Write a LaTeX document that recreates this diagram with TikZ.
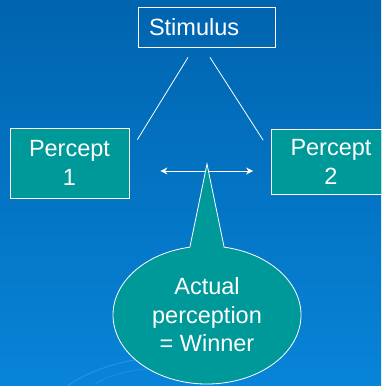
\documentclass[tikz,border=0pt]{standalone}
\usepackage{fontspec}
\setmainfont{Liberation Sans}
\usetikzlibrary{shapes.callouts,arrows.meta}
\definecolor{bgtop}{RGB}{0,100,175}
\definecolor{bgbottom}{RGB}{8,132,216}
\definecolor{teal1}{RGB}{0,153,153}
\definecolor{swirl}{RGB}{60,160,235}

\tikzset{
  slidetext/.style={font=\fontsize{23.5}{28.5}\selectfont, text=white},
  percept/.style={slidetext, draw=white, fill=teal1, line width=0.8pt,
    minimum width=119pt, minimum height=67pt, align=center, inner sep=0pt},
  link/.style={draw=white, line width=0.8pt}
}

\begin{document}
\begin{tikzpicture}[x=1pt,y=-1pt]
\useasboundingbox (0,0) rectangle (381,386);
\clip (0,0) rectangle (381,386);
\shade[top color=bgtop, bottom color=bgbottom] (0,0) rectangle (381,386);
% faint swirls at the bottom
\draw[swirl, opacity=0.5, line width=1.2pt] (60,392) .. controls (90,365) and (150,350) .. (230,356);
\draw[swirl, opacity=0.4, line width=1pt] (95,384) .. controls (120,368) and (170,362) .. (250,372);

\node[slidetext, draw=white, line width=0.8pt, text width=115pt, align=left,
  inner xsep=11pt, inner ysep=0pt, minimum height=40pt] (stim) at (206.5,27) {Stimulus};
\node[percept, minimum height=70pt] (p1) at (69.5,163) {Percept\\1};
\node[percept, minimum height=65pt] (p2) at (331,162) {Percept\\2};

\coordinate (l1a) at ([xshift=-18.5pt,yshift=-10pt]stim.south);
\coordinate (l1b) at ([xshift=8pt,yshift=-12pt]p1.north east);
\coordinate (l2a) at ([xshift=3.5pt,yshift=-10pt]stim.south);
\coordinate (l2b) at ([xshift=-8pt,yshift=-11pt]p2.north west);
\draw[link] (l1a) -- (l1b);
\draw[link] (l2a) -- (l2b);

\coordinate (al) at ([xshift=31pt,yshift=-8pt]p1.east);
\coordinate (ar) at ([xshift=-18pt,yshift=-8pt]p1.east -| p2.west);
\draw[link, line width=1pt, {Stealth[length=7pt,width=7pt]}-{Stealth[length=7pt,width=7pt]}] (al) -- (ar);

\coordinate (tip) at (207,164);
\node[slidetext, ellipse callout, draw=white, fill=teal1, line width=0.8pt,
  minimum width=188pt, minimum height=138pt, inner sep=0pt, align=center,
  callout absolute pointer={(tip)}, callout pointer arc=21] (win) at (207,315)
  {Actual\\perception\\= Winner};
\end{tikzpicture}
\end{document}
